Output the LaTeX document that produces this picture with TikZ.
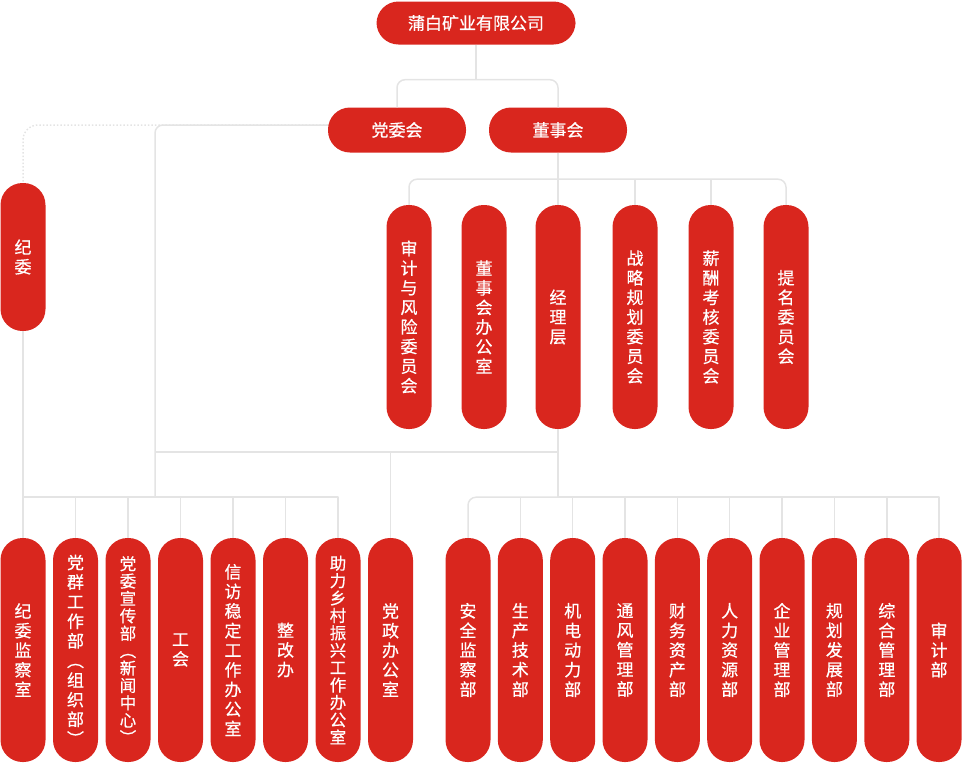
\documentclass[tikz,border=0pt]{standalone}
\usepackage{fontspec}
\setmainfont{Noto Sans CJK SC}
\newfontfamily\cnfont{Noto Sans CJK SC}[FakeBold=0.5]
\usetikzlibrary{calc}
\definecolor{orgred}{RGB}{217,38,30}
\definecolor{linegray}{RGB}{228,228,228}

\begin{document}
\begin{tikzpicture}[x=1pt, y=-1pt, line join=round,
	box/.style={fill=orgred, text=white, inner sep=0pt, rounded corners=22pt,
		font=\cnfont\fontsize{17}{19.6}\selectfont, align=center},
	hbox/.style={box, minimum width=138pt, minimum height=45pt},
	vbox/.style={box, minimum width=45pt, minimum height=224pt},
	tight/.style={font=\cnfont\fontsize{16.5}{17.4}\selectfont},
	link/.style={draw=linegray, line width=1.5pt}]
	\useasboundingbox (0,0) rectangle (963,764);
	\def \r{8} \def \ym{317} \def \yb{650}
	% top
	\node[hbox, minimum width=199pt, minimum height=43pt] (co) at (476,23) {蒲白矿业有限公司};
	\node[hbox] (dw) at (397,130) {党委会};
	\node[hbox] (ds) at (558,130) {董事会};
	\node[box, minimum width=45pt, minimum height=148pt] (jw) at (23,257) {纪\\委};
	% board
	\node[vbox] (m1) at (409,\ym) {审\\计\\与\\风\\险\\委\\员\\会};
	\node[vbox] (m2) at (484,\ym) {董\\事\\会\\办\\公\\室};
	\node[vbox] (m3) at (558,\ym) {经\\理\\层};
	\node[vbox] (m4) at (635,\ym) {战\\略\\规\\划\\委\\员\\会};
	\node[vbox] (m5) at (711,\ym) {薪\\酬\\考\\核\\委\\员\\会};
	\node[vbox] (m6) at (786,\ym) {提\\名\\委\\员\\会};
	% party departments
	\node[vbox] (p1) at (23,\yb) {纪\\委\\监\\察\\室};
	\node[vbox] (p2) at (75.5,\yb) {党\\群\\工\\作\\部\\︵\\组\\织\\部\\︶};
	\node[vbox, tight] (p3) at (128,\yb) {党\\委\\宣\\传\\部\\︵\\新\\闻\\中\\心\\︶};
	\node[vbox] (p4) at (180.5,\yb) {工\\会};
	\node[vbox] (p5) at (233,\yb) {信\\访\\稳\\定\\工\\作\\办\\公\\室};
	\node[vbox] (p6) at (285.5,\yb) {整\\改\\办};
	\node[vbox, tight] (p7) at (338,\yb) {助\\力\\乡\\村\\振\\兴\\工\\作\\办\\公\\室};
	\node[vbox] (p8) at (390.5,\yb) {党\\政\\办\\公\\室};
	% management departments
	\node[vbox] (q1) at (468,\yb) {安\\全\\监\\察\\部};
	\node[vbox] (q2) at (520.3,\yb) {生\\产\\技\\术\\部};
	\node[vbox] (q3) at (572.7,\yb) {机\\电\\动\\力\\部};
	\node[vbox] (q4) at (625,\yb) {通\\风\\管\\理\\部};
	\node[vbox] (q5) at (677.4,\yb) {财\\务\\资\\产\\部};
	\node[vbox] (q6) at (729.7,\yb) {人\\力\\资\\源\\部};
	\node[vbox] (q7) at (782,\yb) {企\\业\\管\\理\\部};
	\node[vbox] (q8) at (834.4,\yb) {规\\划\\发\\展\\部};
	\node[vbox] (q9) at (886.8,\yb) {综\\合\\管\\理\\部};
	\node[vbox] (q10) at (939,\yb) {审\\计\\部};
	% bus points
	\coordinate (pj) at (155,497);
	\path (co.south) -- ++(0,35) coordinate (tb);
	\path (ds.south) -- ++(0,26.5) coordinate (mb);
	\path (m3.south) -- ++(0,23) coordinate (mj);
	\path (m3.south) -- ++(0,68) coordinate (qb);
	% links
	\draw[link] (co.south) -- (tb);
	\draw[link, rounded corners=\r] (dw.north) |- (tb) -| (ds.north);
	\draw[link, dotted, rounded corners=15] ([yshift=5pt]dw.west) -| (jw.north);
	\draw[link, rounded corners=\r] ([yshift=5pt]dw.west) -| (pj);
	\draw[link] (jw.south) -- (p1.north);
	\draw[link] (jw.south |- pj) -| (p7.north);
	\foreach \i in {2,...,6} \draw[link] (p\i.north) -- (p\i.north |- pj);
	\draw[link] (ds.south) -- (m3.north);
	\draw[link, rounded corners=\r] (m1.north) |- (mb) -| (m6.north);
	\draw[link] (m4.north) -- (m4.north |- mb);
	\draw[link] (m5.north) -- (m5.north |- mb);
	\draw[link] (m3.south) -- (qb);
	\draw[link] (mj) -- (pj |- mj);
	\draw[link] (p8.north) -- (p8.north |- mj);
	\draw[link, rounded corners=\r] (q1.north) |- (qb);
	\draw[link] (qb) -| (q10.north);
	\foreach \i in {2,...,9} \draw[link] (q\i.north) -- (q\i.north |- qb);
\end{tikzpicture}
\end{document}
